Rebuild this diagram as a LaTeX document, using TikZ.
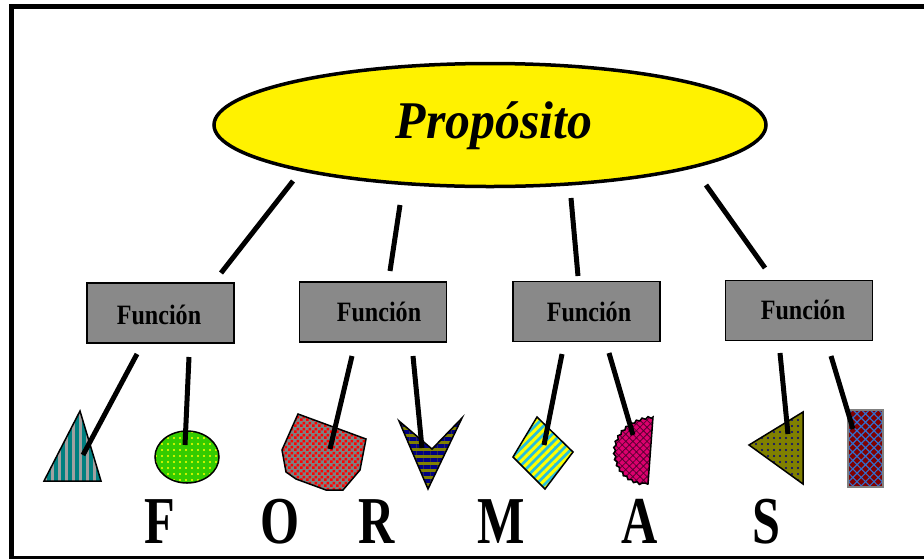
\documentclass[tikz,border=0pt]{standalone}
\usepackage{fontspec}
\setmainfont{Liberation Serif}
\usetikzlibrary{shapes.geometric,patterns.meta,decorations.pathmorphing}
\definecolor{boxgray}{RGB}{137,137,137}
\definecolor{ellyellow}{RGB}{255,242,0}
\definecolor{tealc}{RGB}{0,128,128}
\definecolor{stripegray}{RGB}{160,160,160}
\definecolor{brightgreen}{RGB}{51,204,0}
\definecolor{dotyellow}{RGB}{255,255,0}
\definecolor{checkred}{RGB}{255,0,0}
\definecolor{checkgray}{RGB}{128,128,128}
\definecolor{navyc}{RGB}{0,0,128}
\definecolor{olivec}{RGB}{128,128,0}
\definecolor{cyanc}{RGB}{40,190,220}
\definecolor{magentac}{RGB}{220,0,110}
\definecolor{darkmag}{RGB}{90,0,50}
\definecolor{darkred}{RGB}{128,0,0}
\definecolor{bluec}{RGB}{51,110,204}
\tikzdeclarepattern{
  name=mychecker,
  type=uncolored,
  bounding box={(0pt,0pt) and (6pt,6pt)},
  tile size={(6pt,6pt)},
  code={\fill (0pt,0pt) rectangle (3pt,3pt); \fill (3pt,3pt) rectangle (6pt,6pt);}
}
\tikzset{
  link/.style={line width=5pt},
  funbox/.style={draw=black, line width=1.5pt, fill=boxgray, minimum width=147pt, minimum height=60pt, inner sep=0pt},
  funtext/.style={inner sep=0pt, font=\fontsize{28}{32}\selectfont\bfseries},
  shapeline/.style={draw=black, line width=1.5pt},
  bigletter/.style={anchor=base, inner sep=0pt, text depth=0pt, font=\fontsize{67}{75}\selectfont\bfseries}
}
\begin{document}
\begin{tikzpicture}[x=1pt,y=-1pt]
\useasboundingbox (0,0) rectangle (924,558);
\fill[white] (0,0) rectangle (924,558);
% frame
\draw[line width=4.5pt] (11.5,6.5) rectangle (950,558.5);

% main ellipse
\node[ellipse, draw=black, line width=3.5pt, fill=ellyellow, minimum width=552pt, minimum height=123pt, inner sep=0pt] (prop) at (490,125) {};
\node[inner sep=0pt, anchor=base, font=\fontsize{53}{60}\selectfont\bfseries\itshape] (proptext) at (494,138) {\scalebox{0.94}[1]{Propósito}};

% function boxes
\node[funbox] (f1) at (160.5,313) {};
\node[funbox] (f2) at (373,312) {};
\node[funbox] (f3) at (586.5,311.5) {};
\node[funbox] (f4) at (799,310.5) {};
\node[funtext] (t1) at (159,315) {\scalebox{0.86}[1]{Función}};
\node[funtext] (t2) at (379,312) {\scalebox{0.86}[1]{Función}};
\node[funtext] (t3) at (589,312) {\scalebox{0.86}[1]{Función}};
\node[funtext] (t4) at (803,310) {\scalebox{0.86}[1]{Función}};

% connectors ellipse -> boxes
\coordinate (a1) at (293,181); \coordinate (b1) at (221,273);
\coordinate (a2) at (400,205); \coordinate (b2) at (390,271);
\coordinate (a3) at (571,198); \coordinate (b3) at (578,276);
\coordinate (a4) at (706,185); \coordinate (b4) at (765,268);
\draw[link] (a1) -- (b1);
\draw[link] (a2) -- (b2);
\draw[link] (a3) -- (b3);
\draw[link] (a4) -- (b4);

% shapes
% 1 triangle (teal stripes)
\draw[shapeline, preaction={fill=stripegray}, pattern={Lines[angle=90,distance=7pt,line width=3.5pt]}, pattern color=tealc]
  (80,411) -- (101,481) -- (44,481) -- cycle;
% 2 green ellipse with dots
\draw[shapeline, preaction={fill=brightgreen}, pattern={Dots[radius=1.1pt,distance=6pt]}, pattern color=dotyellow]
  (187,457) ellipse [x radius=32, y radius=26];
% 3 red checker polygon
\draw[shapeline, preaction={fill=checkgray}, pattern=mychecker, pattern color=checkred]
  (298,414) -- (366,439) -- (360,470) -- (343,490) -- (326,490) -- (296,479) -- (286,472) -- (282,450) -- cycle;
% 4 chevron (navy/olive stripes)
\draw[shapeline, preaction={fill=olivec}, pattern={Lines[angle=0,distance=7pt,line width=3.5pt]}, pattern color=navyc]
  (399,421) -- (432,449) -- (462,418) -- (428,489) -- cycle;
% 5 diamond (yellow/cyan stripes)
\draw[shapeline, preaction={fill=cyanc}, pattern={Lines[angle=45,distance=6pt,line width=3pt]}, pattern color=dotyellow]
  (537,417) -- (573,452) -- (545,489) -- (513,457) -- cycle;
% 6 half disc (magenta) with wavy curved side
\draw[shapeline, preaction={fill=magentac}, pattern={Hatch[angle=45,distance=5pt,line width=0.8pt]}, pattern color=darkmag]
  (653,417) decorate[decoration={snake,segment length=6pt,amplitude=1pt}]
  { .. controls (634,419) and (616,432) .. (616,451) .. controls (616,470) and (630,484) .. (648,484) } -- cycle;
% 7 olive triangle with navy dots
\draw[shapeline, preaction={fill=olivec}, pattern={Dots[radius=1.2pt,distance=6pt]}, pattern color=navyc]
  (803,412) -- (803,484) -- (749,445) -- cycle;
% 8 rectangle dark red / blue hatch
\draw[draw=gray, line width=1.5pt, preaction={fill=darkred}, pattern={Hatch[angle=45,distance=6pt,line width=1.2pt]}, pattern color=bluec]
  (848,410) rectangle (883,487);

% connectors boxes -> shapes
\coordinate (c1) at (137,354); \coordinate (d1) at (83,455);
\coordinate (c2) at (189,357); \coordinate (d2) at (185,445);
\coordinate (c3) at (352,356); \coordinate (d3) at (330,449);
\coordinate (c4) at (413,356); \coordinate (d4) at (422,448);
\coordinate (c5) at (562,354); \coordinate (d5) at (544,445);
\coordinate (c6) at (609,353); \coordinate (d6) at (633,435);
\coordinate (c7) at (780,353); \coordinate (d7) at (788,434);
\coordinate (c8) at (831,356); \coordinate (d8) at (853,429);
\draw[link] (c1) -- (d1);
\draw[link] (c2) -- (d2);
\draw[link] (c3) -- (d3);
\draw[link] (c4) -- (d4);
\draw[link] (c5) -- (d5);
\draw[link] (c6) -- (d6);
\draw[link] (c7) -- (d7);
\draw[link] (c8) -- (d8);

% FORMAS
\node[bigletter] (lF) at (160,543) {\scalebox{0.75}[1]{F}};
\node[bigletter] (lO) at (280,543) {\scalebox{0.75}[1]{O}};
\node[bigletter] (lR) at (377,543) {\scalebox{0.75}[1]{R}};
\node[bigletter] (lM) at (501,543) {\scalebox{0.75}[1]{M}};
\node[bigletter] (lA) at (640,543) {\scalebox{0.75}[1]{A}};
\node[bigletter] (lS) at (766,543) {\scalebox{0.75}[1]{S}};
\end{tikzpicture}
\end{document}
